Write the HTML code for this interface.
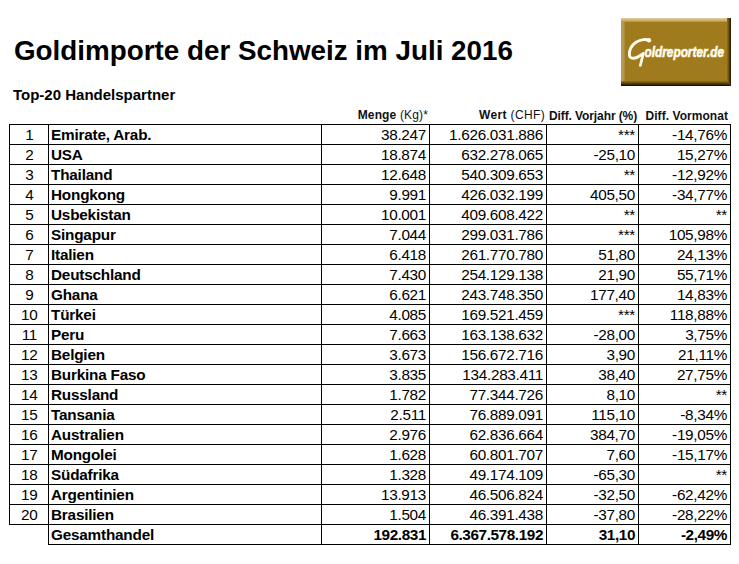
<!DOCTYPE html>
<html><head><meta charset="utf-8">
<style>
html,body{margin:0;padding:0;background:#fff;}
body{width:739px;height:564px;position:relative;overflow:hidden;font-family:"Liberation Sans",sans-serif;color:#000;}
i{position:absolute;background:#000;display:block;}
.c{position:absolute;line-height:20px;font-size:15.3px;white-space:nowrap;}
.k{text-align:center;letter-spacing:-0.3px;text-indent:0.6px;}
.b{font-weight:bold;letter-spacing:-0.2px;}
.r{letter-spacing:-0.3px;}
.rb{font-weight:bold;letter-spacing:-0.4px;}
.t{position:absolute;white-space:nowrap;font-weight:bold;}
.h{position:absolute;white-space:nowrap;font-size:12px;line-height:14px;color:#111;}
.h b{font-weight:bold;}
.logo{position:absolute;left:621px;top:18px;width:110px;height:68px;background:#a07b1e;overflow:hidden;}
.logo div{position:absolute;}
</style></head><body>
<div class="t" style="left:14px;top:34px;font-size:27.8px;line-height:34px;letter-spacing:0px">Goldimporte der Schweiz im Juli 2016</div>
<div class="t" style="left:13px;top:86px;font-size:15px;line-height:18px;letter-spacing:0px">Top-20 Handelspartner</div>
<div class="h" style="right:311px;top:108px;letter-spacing:0.15px"><b>Menge</b> (Kg)*</div>
<div class="h" style="right:194px;top:108px;letter-spacing:0.35px"><b>Wert</b> (CHF)</div>
<div class="h" style="left:549px;top:109px;letter-spacing:-0.1px"><b>Diff. Vorjahr (%)</b></div>
<div class="h" style="right:11px;top:109px;letter-spacing:0.05px"><b>Diff. Vormonat</b></div>
<div class="logo">
<svg style="position:absolute;left:0;top:0" width="110" height="68" viewBox="621 18 110 68">
<defs>
<linearGradient id="gt" x1="0" y1="0" x2="0" y2="1"><stop offset="0" stop-color="#dbcfa3"/><stop offset="0.5" stop-color="#cfb674"/><stop offset="1" stop-color="#b39434"/></linearGradient>
<linearGradient id="gl" x1="0" y1="0" x2="1" y2="0"><stop offset="0" stop-color="#a89a6e"/><stop offset="0.5" stop-color="#b99c56"/><stop offset="1" stop-color="#a88630"/></linearGradient>
<linearGradient id="gr" x1="0" y1="0" x2="1" y2="0"><stop offset="0" stop-color="#94721c"/><stop offset="0.5" stop-color="#604810"/><stop offset="1" stop-color="#1a1204"/></linearGradient>
<linearGradient id="gb" x1="0" y1="0" x2="0" y2="1"><stop offset="0" stop-color="#94721c"/><stop offset="0.5" stop-color="#54400f"/><stop offset="1" stop-color="#100800"/></linearGradient>
</defs>
<rect x="621" y="18" width="110" height="68" fill="#a07b1e"/>
<rect x="621" y="18" width="4" height="68" fill="url(#gl)"/>
<rect x="621" y="18" width="110" height="4" fill="url(#gt)"/>
<polygon points="621,86 731,86 727,81 621,81" fill="url(#gb)"/>
<polygon points="731,18 731,86 727,81 727,18" fill="url(#gr)"/>
<path d="M648.6 40.6 C646.5 38.8 641 39.2 636 42.3 C631 45.8 629.2 51 629.4 55 C629.7 58.9 634 58.9 637.5 57.1 C639.5 56.1 641 55 642.2 54.2" fill="none" stroke="#fffbea" stroke-width="2.9" stroke-linecap="round"/>
<path d="M643.3 53.4 L640.3 65.5" fill="none" stroke="#fffbea" stroke-width="2.7" stroke-linecap="round"/>
<circle cx="649.0" cy="40.3" r="2.2" fill="#fffbea"/>
<text x="644.5" y="57" font-family="Liberation Sans" font-weight="bold" font-style="italic" font-size="15" fill="#fffbea" stroke="#fffbea" stroke-width="0.6" textLength="79.5" lengthAdjust="spacingAndGlyphs">oldreporter.de</text>
</svg>
</div>
<i style="left:9px;top:124px;width:722px;height:1px"></i><i style="left:9px;top:144px;width:722px;height:1px"></i><i style="left:9px;top:164px;width:722px;height:1px"></i><i style="left:9px;top:184px;width:722px;height:1px"></i><i style="left:9px;top:204px;width:722px;height:1px"></i><i style="left:9px;top:224px;width:722px;height:1px"></i><i style="left:9px;top:244px;width:722px;height:1px"></i><i style="left:9px;top:264px;width:722px;height:1px"></i><i style="left:9px;top:284px;width:722px;height:1px"></i><i style="left:9px;top:304px;width:722px;height:1px"></i><i style="left:9px;top:324px;width:722px;height:1px"></i><i style="left:9px;top:344px;width:722px;height:1px"></i><i style="left:9px;top:364px;width:722px;height:1px"></i><i style="left:9px;top:384px;width:722px;height:1px"></i><i style="left:9px;top:404px;width:722px;height:1px"></i><i style="left:9px;top:424px;width:722px;height:1px"></i><i style="left:9px;top:444px;width:722px;height:1px"></i><i style="left:9px;top:464px;width:722px;height:1px"></i><i style="left:9px;top:484px;width:722px;height:1px"></i><i style="left:9px;top:504px;width:722px;height:1px"></i><i style="left:9px;top:524px;width:722px;height:1px"></i><i style="left:48px;top:544px;width:683px;height:1px"></i><i style="left:9px;top:124px;width:1px;height:401px"></i><i style="left:48px;top:124px;width:1px;height:421px"></i><i style="left:321px;top:124px;width:1px;height:421px"></i><i style="left:429px;top:124px;width:1px;height:421px"></i><i style="left:546px;top:124px;width:1px;height:421px"></i><i style="left:638px;top:124px;width:1px;height:421px"></i><i style="left:730px;top:124px;width:1px;height:421px"></i>
<div class="c k" style="left:10px;top:125px;width:38px">1</div><div class="c b" style="left:51px;top:125px">Emirate, Arab.</div><div class="c r" style="right:313px;top:125px">38.247</div><div class="c r" style="right:196px;top:125px">1.626.031.886</div><div class="c r" style="right:104px;top:125px">***</div><div class="c r" style="right:12px;top:125px">-14,76%</div><div class="c k" style="left:10px;top:145px;width:38px">2</div><div class="c b" style="left:51px;top:145px">USA</div><div class="c r" style="right:313px;top:145px">18.874</div><div class="c r" style="right:196px;top:145px">632.278.065</div><div class="c r" style="right:104px;top:145px">-25,10</div><div class="c r" style="right:12px;top:145px">15,27%</div><div class="c k" style="left:10px;top:165px;width:38px">3</div><div class="c b" style="left:51px;top:165px">Thailand</div><div class="c r" style="right:313px;top:165px">12.648</div><div class="c r" style="right:196px;top:165px">540.309.653</div><div class="c r" style="right:104px;top:165px">**</div><div class="c r" style="right:12px;top:165px">-12,92%</div><div class="c k" style="left:10px;top:185px;width:38px">4</div><div class="c b" style="left:51px;top:185px">Hongkong</div><div class="c r" style="right:313px;top:185px">9.991</div><div class="c r" style="right:196px;top:185px">426.032.199</div><div class="c r" style="right:104px;top:185px">405,50</div><div class="c r" style="right:12px;top:185px">-34,77%</div><div class="c k" style="left:10px;top:205px;width:38px">5</div><div class="c b" style="left:51px;top:205px">Usbekistan</div><div class="c r" style="right:313px;top:205px">10.001</div><div class="c r" style="right:196px;top:205px">409.608.422</div><div class="c r" style="right:104px;top:205px">**</div><div class="c r" style="right:12px;top:205px">**</div><div class="c k" style="left:10px;top:225px;width:38px">6</div><div class="c b" style="left:51px;top:225px">Singapur</div><div class="c r" style="right:313px;top:225px">7.044</div><div class="c r" style="right:196px;top:225px">299.031.786</div><div class="c r" style="right:104px;top:225px">***</div><div class="c r" style="right:12px;top:225px">105,98%</div><div class="c k" style="left:10px;top:245px;width:38px">7</div><div class="c b" style="left:51px;top:245px">Italien</div><div class="c r" style="right:313px;top:245px">6.418</div><div class="c r" style="right:196px;top:245px">261.770.780</div><div class="c r" style="right:104px;top:245px">51,80</div><div class="c r" style="right:12px;top:245px">24,13%</div><div class="c k" style="left:10px;top:265px;width:38px">8</div><div class="c b" style="left:51px;top:265px">Deutschland</div><div class="c r" style="right:313px;top:265px">7.430</div><div class="c r" style="right:196px;top:265px">254.129.138</div><div class="c r" style="right:104px;top:265px">21,90</div><div class="c r" style="right:12px;top:265px">55,71%</div><div class="c k" style="left:10px;top:285px;width:38px">9</div><div class="c b" style="left:51px;top:285px">Ghana</div><div class="c r" style="right:313px;top:285px">6.621</div><div class="c r" style="right:196px;top:285px">243.748.350</div><div class="c r" style="right:104px;top:285px">177,40</div><div class="c r" style="right:12px;top:285px">14,83%</div><div class="c k" style="left:10px;top:305px;width:38px">10</div><div class="c b" style="left:51px;top:305px">Türkei</div><div class="c r" style="right:313px;top:305px">4.085</div><div class="c r" style="right:196px;top:305px">169.521.459</div><div class="c r" style="right:104px;top:305px">***</div><div class="c r" style="right:12px;top:305px">118,88%</div><div class="c k" style="left:10px;top:325px;width:38px">11</div><div class="c b" style="left:51px;top:325px">Peru</div><div class="c r" style="right:313px;top:325px">7.663</div><div class="c r" style="right:196px;top:325px">163.138.632</div><div class="c r" style="right:104px;top:325px">-28,00</div><div class="c r" style="right:12px;top:325px">3,75%</div><div class="c k" style="left:10px;top:345px;width:38px">12</div><div class="c b" style="left:51px;top:345px">Belgien</div><div class="c r" style="right:313px;top:345px">3.673</div><div class="c r" style="right:196px;top:345px">156.672.716</div><div class="c r" style="right:104px;top:345px">3,90</div><div class="c r" style="right:12px;top:345px">21,11%</div><div class="c k" style="left:10px;top:365px;width:38px">13</div><div class="c b" style="left:51px;top:365px">Burkina Faso</div><div class="c r" style="right:313px;top:365px">3.835</div><div class="c r" style="right:196px;top:365px">134.283.411</div><div class="c r" style="right:104px;top:365px">38,40</div><div class="c r" style="right:12px;top:365px">27,75%</div><div class="c k" style="left:10px;top:385px;width:38px">14</div><div class="c b" style="left:51px;top:385px">Russland</div><div class="c r" style="right:313px;top:385px">1.782</div><div class="c r" style="right:196px;top:385px">77.344.726</div><div class="c r" style="right:104px;top:385px">8,10</div><div class="c r" style="right:12px;top:385px">**</div><div class="c k" style="left:10px;top:405px;width:38px">15</div><div class="c b" style="left:51px;top:405px">Tansania</div><div class="c r" style="right:313px;top:405px">2.511</div><div class="c r" style="right:196px;top:405px">76.889.091</div><div class="c r" style="right:104px;top:405px">115,10</div><div class="c r" style="right:12px;top:405px">-8,34%</div><div class="c k" style="left:10px;top:425px;width:38px">16</div><div class="c b" style="left:51px;top:425px">Australien</div><div class="c r" style="right:313px;top:425px">2.976</div><div class="c r" style="right:196px;top:425px">62.836.664</div><div class="c r" style="right:104px;top:425px">384,70</div><div class="c r" style="right:12px;top:425px">-19,05%</div><div class="c k" style="left:10px;top:445px;width:38px">17</div><div class="c b" style="left:51px;top:445px">Mongolei</div><div class="c r" style="right:313px;top:445px">1.628</div><div class="c r" style="right:196px;top:445px">60.801.707</div><div class="c r" style="right:104px;top:445px">7,60</div><div class="c r" style="right:12px;top:445px">-15,17%</div><div class="c k" style="left:10px;top:465px;width:38px">18</div><div class="c b" style="left:51px;top:465px">Südafrika</div><div class="c r" style="right:313px;top:465px">1.328</div><div class="c r" style="right:196px;top:465px">49.174.109</div><div class="c r" style="right:104px;top:465px">-65,30</div><div class="c r" style="right:12px;top:465px">**</div><div class="c k" style="left:10px;top:485px;width:38px">19</div><div class="c b" style="left:51px;top:485px">Argentinien</div><div class="c r" style="right:313px;top:485px">13.913</div><div class="c r" style="right:196px;top:485px">46.506.824</div><div class="c r" style="right:104px;top:485px">-32,50</div><div class="c r" style="right:12px;top:485px">-62,42%</div><div class="c k" style="left:10px;top:505px;width:38px">20</div><div class="c b" style="left:51px;top:505px">Brasilien</div><div class="c r" style="right:313px;top:505px">1.504</div><div class="c r" style="right:196px;top:505px">46.391.438</div><div class="c r" style="right:104px;top:505px">-37,80</div><div class="c r" style="right:12px;top:505px">-28,22%</div><div class="c b" style="left:51px;top:525px">Gesamthandel</div><div class="c rb" style="right:313px;top:525px">192.831</div><div class="c rb" style="right:196px;top:525px">6.367.578.192</div><div class="c rb" style="right:104px;top:525px">31,10</div><div class="c rb" style="right:12px;top:525px">-2,49%</div>
</body></html>
